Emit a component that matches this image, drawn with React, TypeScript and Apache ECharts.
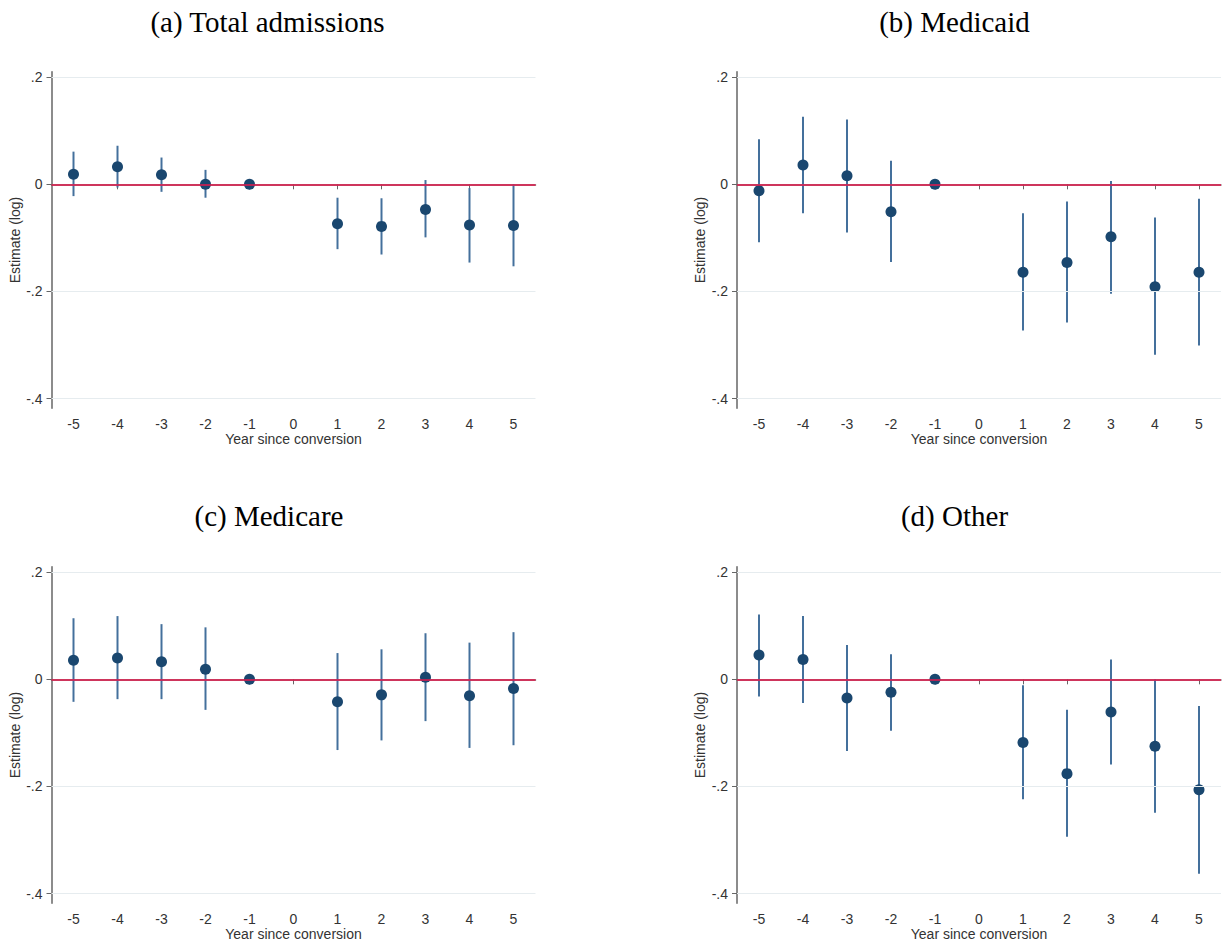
import React, { useEffect, useRef } from "react";
import * as echarts from "echarts";

const years = ["-5", "-4", "-3", "-2", "-1", "0", "1", "2", "3", "4", "5"];
const yTicks = [-0.4, -0.2, 0, 0.2];
const panelTitles = ["(a) Total admissions", "(b) Medicaid", "(c) Medicare", "(d) Other"];

// estimates (null = no estimate at that year)
const estA = [0.019, 0.033, 0.018, 0.0, 0.0, null, -0.0735, -0.0785, -0.047, -0.076, -0.077];
const loA = [-0.022, -0.006, -0.014, -0.025, null, null, -0.121, -0.131, -0.099, -0.146, -0.153];
const hiA = [0.061, 0.072, 0.05, 0.027, null, null, -0.025, -0.026, 0.008, -0.007, 0.0];

const estB = [-0.012, 0.036, 0.016, -0.051, 0.0, null, -0.164, -0.146, -0.098, -0.191, -0.164];
const loB = [-0.108, -0.054, -0.09, -0.145, null, null, -0.273, -0.258, -0.204, -0.318, -0.301];
const hiB = [0.084, 0.126, 0.121, 0.044, null, null, -0.054, -0.032, 0.006, -0.062, -0.027];

const estC = [0.0355, 0.04, 0.033, 0.019, 0.0, null, -0.042, -0.029, 0.004, -0.0305, -0.017];
const loC = [-0.042, -0.037, -0.037, -0.057, null, null, -0.132, -0.114, -0.078, -0.128, -0.123];
const hiC = [0.114, 0.118, 0.103, 0.097, null, null, 0.049, 0.056, 0.086, 0.0685, 0.088];

const estD = [0.0455, 0.037, -0.035, -0.024, 0.0, null, -0.118, -0.176, -0.061, -0.125, -0.206];
const loD = [-0.032, -0.044, -0.134, -0.096, null, null, -0.224, -0.294, -0.159, -0.249, -0.363];
const hiD = [0.121, 0.118, 0.064, 0.047, null, null, -0.011, -0.057, 0.037, 0.0, -0.05];

const panels = [
  { est: estA, lo: loA, hi: hiA },
  { est: estB, lo: loB, hi: hiB },
  { est: estC, lo: loC, hi: hiC },
  { est: estD, lo: loD, hi: hiD },
];

const grids = [
  { left: 51.5, top: 71.8, width: 484, height: 336.5 },
  { left: 737, top: 71.8, width: 484, height: 336.5 },
  { left: 51.5, top: 566.8, width: 484, height: 336.5 },
  { left: 737, top: 566.8, width: 484, height: 336.5 },
];
const titlePos = [
  { x: 267.5, y: 7 },
  { x: 954.5, y: 7 },
  { x: 269, y: 501 },
  { x: 954.5, y: 501 },
];

const fmtY = (v: number) => {
  if (Math.abs(v) < 1e-9) return "0";
  return v.toFixed(1).replace("0.", ".");
};

export default function App() {
  const ref = useRef<HTMLDivElement>(null);
  useEffect(() => {
    document.body.style.margin = "0";
    const chart = echarts.init(ref.current!, null, { renderer: "svg" });
    const labelFont = "Liberation Sans";
    const option: any = {
      animation: false,
      backgroundColor: "#ffffff",
      title: panelTitles.map((t, i) => ({
        text: t,
        left: titlePos[i].x,
        top: titlePos[i].y,
        textAlign: "center",
        padding: 0,
        textStyle: {
          fontFamily: "Liberation Serif",
          fontSize: 29,
          fontWeight: "normal",
          color: "#000",
        },
      })),
      grid: grids.map((g) => ({ ...g, containLabel: false })),
      xAxis: grids.map((_, i) => ({
        type: "category",
        gridIndex: i,
        data: years,
        boundaryGap: true,
        name: "Year since conversion",
        nameLocation: "middle",
        nameGap: 24,
        nameTextStyle: { fontFamily: labelFont, fontSize: 14, color: "#333" },
        axisLine: { show: true, lineStyle: { color: "#666", width: 1.5 } },
        axisTick: { show: true, alignWithLabel: true, length: 5, lineStyle: { color: "#666", width: 1 } },
        axisLabel: { fontFamily: labelFont, fontSize: 14, color: "#333", margin: 9, interval: 0 },
        splitLine: { show: false },
      })),
      yAxis: grids.map((_, i) => ({
        type: "value",
        gridIndex: i,
        min: -0.418,
        max: 0.21,
        name: "Estimate (log)",
        nameLocation: "middle",
        nameGap: 30,
        nameTextStyle: { fontFamily: labelFont, fontSize: 14, color: "#333" },
        axisLine: { show: true, lineStyle: { color: "#666", width: 1.5 } },
        axisTick: { show: true, length: 5, customValues: yTicks, lineStyle: { color: "#666", width: 1 } },
        axisLabel: {
          fontFamily: labelFont,
          fontSize: 14,
          color: "#333",
          margin: 9,
          customValues: yTicks,
          formatter: fmtY,
        },
        splitLine: { show: false },
      })),
      series: [] as any[],
    };

    panels.forEach((p, i) => {
      const ciData: any[] = [];
      const ptData: any[] = [];
      years.forEach((_, k) => {
        if (p.lo[k] !== null && p.hi[k] !== null) ciData.push([k, p.lo[k], p.hi[k]]);
        if (p.est[k] !== null) ptData.push([k, p.est[k]]);
      });
      option.series.push({
        type: "line",
        xAxisIndex: i,
        yAxisIndex: i,
        data: [],
        silent: true,
        z: 1,
        markLine: {
          silent: true,
          symbol: "none",
          label: { show: false },
          animation: false,
          data: [
            ...yTicks
              .filter((v) => v !== 0)
              .map((v) => ({ yAxis: v, lineStyle: { color: "#e6ecef", width: 1, type: "solid" } })),
            { yAxis: 0, lineStyle: { color: "#e5194c", width: 1.6, type: "solid" } },
          ],
        },
      });
      option.series.push({
        type: "custom",
        xAxisIndex: i,
        yAxisIndex: i,
        z: 2,
        silent: true,
        encode: { x: 0, y: [1, 2] },
        data: ciData,
        renderItem: (params: any, api: any) => {
          const x = api.value(0);
          const a = api.coord([x, api.value(1)]);
          const b = api.coord([x, api.value(2)]);
          return {
            type: "line",
            shape: { x1: a[0], y1: a[1], x2: b[0], y2: b[1] },
            style: { stroke: "#44709c", lineWidth: 2 },
          };
        },
      });
      option.series.push({
        type: "scatter",
        xAxisIndex: i,
        yAxisIndex: i,
        z: 3,
        symbol: "circle",
        symbolSize: 11,
        itemStyle: { color: "#1a476f", opacity: 1 },
        data: ptData,
      });
    });

    chart.setOption(option);
    return () => chart.dispose();
  }, []);
  return <div ref={ref} style={{ width: 1225, height: 945 }} />;
}
